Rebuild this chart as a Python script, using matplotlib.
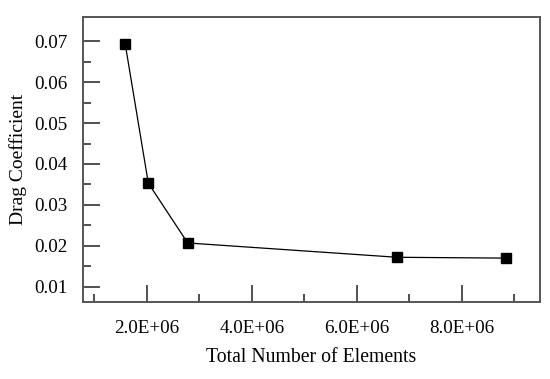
import numpy as np
import matplotlib
matplotlib.use('Agg')
from matplotlib import pyplot as plt
from matplotlib.ticker import MultipleLocator, FixedLocator, FuncFormatter

plt.rcParams['font.family'] = ['Liberation Serif', 'DejaVu Serif']

# mesh study data
n_elements = [1.59e6, 2.03e6, 2.78e6, 6.77e6, 8.84e6]
drag_coef  = [0.0693, 0.0353, 0.0207, 0.0172, 0.0170]

fig = plt.figure(figsize=(5.5, 3.79), dpi=100)
ax  = fig.add_axes([0.151, 0.203, 0.831, 0.752])

ax.plot(n_elements, drag_coef, color='k', lw=0.9, marker='s', markersize=7,
        markerfacecolor='k', markeredgecolor='k')

ax.set_xlim(0.787e6, 9.49e6)
ax.set_ylim(0.00626, 0.0759)

ax.xaxis.set_major_locator(MultipleLocator(2e6))
ax.xaxis.set_minor_locator(MultipleLocator(1e6))
ax.yaxis.set_major_locator(MultipleLocator(0.01))
ax.yaxis.set_minor_locator(FixedLocator([0.015, 0.025, 0.035, 0.045, 0.055, 0.065]))
ax.xaxis.set_major_formatter(FuncFormatter(lambda v, p: '{:.1f}E+06'.format(v / 1e6)))
ax.yaxis.set_major_formatter(FuncFormatter(lambda v, p: '{:.2f}'.format(v)))

ax.tick_params(which='both', direction='in', colors='#333333', labelcolor='k',
               labelsize=13.7, width=1.2)
ax.tick_params(axis='x', which='major', length=12, pad=13)
ax.tick_params(axis='x', which='minor', length=6)
ax.tick_params(axis='y', which='major', length=12, pad=11)
ax.tick_params(axis='y', which='minor', length=6)

for s in ax.spines.values():
    s.set_color('#555555')
    s.set_linewidth(1.4)

ax.set_xlabel('Total Number of Elements', fontsize=14.2, labelpad=8)
ax.set_ylabel('Drag Coefficient', fontsize=14, labelpad=5)

plt.savefig('out.png', dpi=100)
plt.close()
